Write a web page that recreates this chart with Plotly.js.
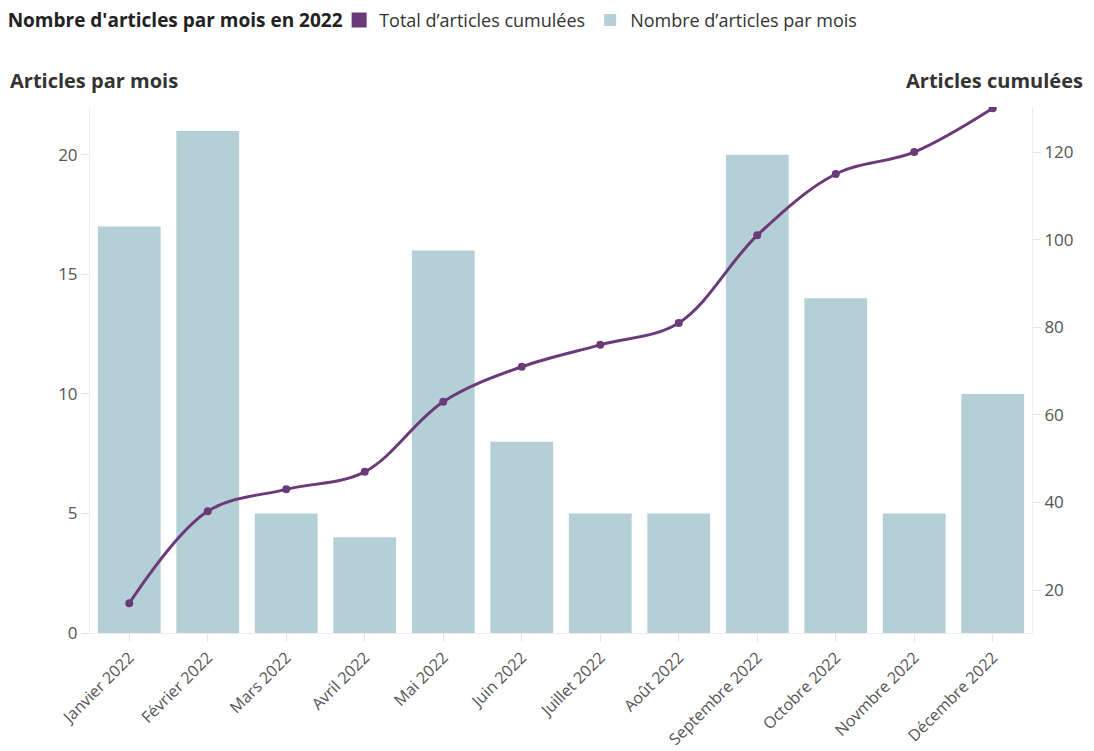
<!DOCTYPE html>
<html>
<head>
<meta charset="utf-8">
<script src="https://cdn.plot.ly/plotly-3.0.1.min.js"></script>
<style>html,body{margin:0;padding:0;background:#fff;}#chart{width:1094px;height:751px;}</style>
</head>
<body>
<div id="chart"></div>
<script>
const months = ["Janvier 2022","Février 2022","Mars 2022","Avril 2022","Mai 2022","Juin 2022","Juillet 2022","Août 2022","Septembre 2022","Octobre 2022","Novmbre 2022","Décembre 2022"];
const articlesPerMonth = [17, 21, 5, 4, 16, 8, 5, 5, 20, 14, 5, 10];
const cumulativeArticles = [17, 38, 43, 47, 63, 71, 76, 81, 101, 115, 120, 130];

const purple = "#6b3a78";
const teal = "#b4d0d6";
const tickFont = {family: "Open Sans, Noto Sans, sans-serif", size: 17, color: "#555"};
const xTickFont = {family: "Open Sans, Noto Sans, sans-serif", size: 16, color: "#555"};

const traces = [
  {type: "scatter", mode: "markers", x: [null], y: [null], name: "Total d’articles cumulées",
   marker: {symbol: "square", size: 15, color: purple}, hoverinfo: "skip", yaxis: "y2"},
  {type: "bar", x: months, y: articlesPerMonth, name: "Nombre d’articles par mois",
   marker: {color: teal}},
  {type: "scatter", mode: "lines+markers", x: months, y: cumulativeArticles, yaxis: "y2",
   name: "Total d’articles cumulées", showlegend: false,
   line: {color: purple, width: 3, shape: "spline", smoothing: 1},
   marker: {color: purple, size: 8}}
];

const layout = {
  width: 1094, height: 751,
  paper_bgcolor: "#fff", plot_bgcolor: "#fff",
  margin: {l: 90, r: 62, t: 107, b: 118},
  bargap: 0.2,
  showlegend: true,
  title: {text: "<b>Nombre d'articles par mois en 2022</b>", x: 0.007, xanchor: "left", xref: "container",
          y: 0.973, yanchor: "middle", yref: "container",
          font: {family: "Open Sans, sans-serif", size: 19, color: "#222"}},
  legend: {orientation: "h", x: 0.31, xanchor: "left", xref: "container", y: 0.973, yanchor: "middle", yref: "container",
           font: {family: "Open Sans, sans-serif", size: 18, color: "#333"},
           itemwidth: 30, tracegroupgap: 0, traceorder: "normal", bgcolor: "rgba(0,0,0,0)"},
  xaxis: {type: "category", tickangle: -45, tickfont: xTickFont, showgrid: false,
          showline: true, linecolor: "#eee", ticks: "outside", ticklen: 8, tickcolor: "#e5e5e5",
          range: [-0.5, 11.5], automargin: false},
  yaxis: {range: [0, 22], tickvals: [0, 5, 10, 15, 20], tickfont: tickFont, showgrid: false,
          showline: true, linecolor: "#eee", ticks: "outside", ticklen: 8, tickcolor: "#e5e5e5",
          zeroline: false, automargin: false},
  yaxis2: {overlaying: "y", side: "right", range: [10.2, 130.3], tickvals: [20, 40, 60, 80, 100, 120],
           tickfont: tickFont, showgrid: false, showline: true, linecolor: "#eee",
           ticks: "outside", ticklen: 8, tickcolor: "#e5e5e5", zeroline: false, automargin: false},
  annotations: [
    {text: "<b>Articles par mois</b>", xref: "paper", yref: "paper", x: -0.087, xanchor: "left",
     y: 1.051, yanchor: "middle", showarrow: false,
     font: {family: "Open Sans, sans-serif", size: 20, color: "#333"}},
    {text: "<b>Articles cumulées</b>", xref: "paper", yref: "paper", x: 1.056, xanchor: "right",
     y: 1.051, yanchor: "middle", showarrow: false,
     font: {family: "Open Sans, sans-serif", size: 20, color: "#333"}}
  ]
};

Plotly.newPlot("chart", traces, layout, {displayModeBar: false});
</script>
</body>
</html>
